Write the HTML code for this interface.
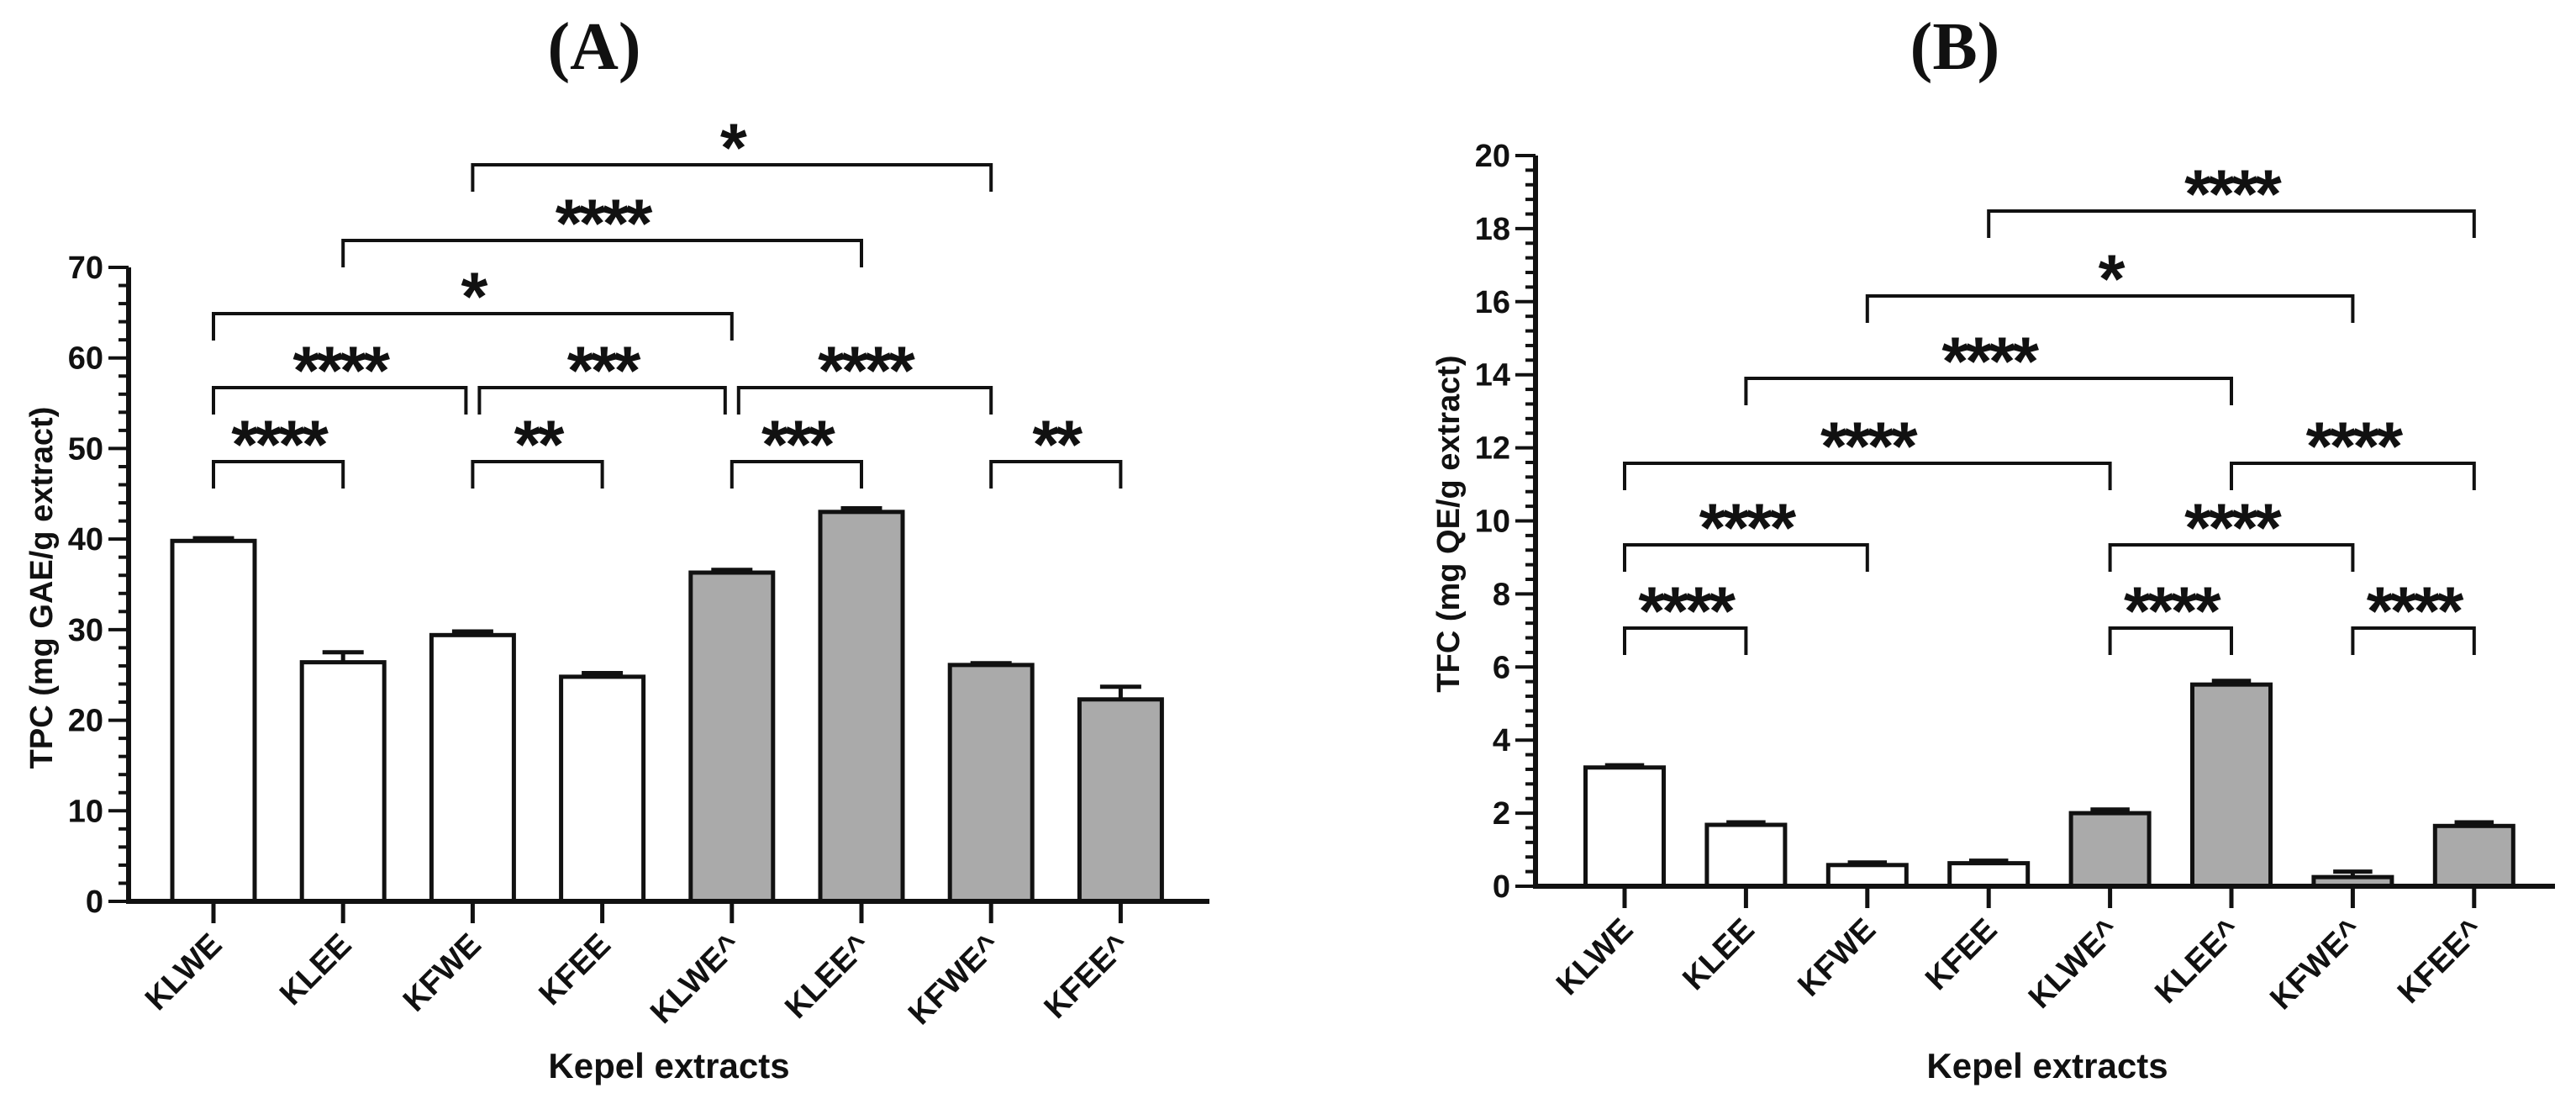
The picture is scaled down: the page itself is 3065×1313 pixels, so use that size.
<!DOCTYPE html>
<html><head><meta charset="utf-8"><style>
html,body{margin:0;padding:0;background:#fff}
svg{display:block}
text{font-family:"Liberation Sans",Arial,sans-serif;font-weight:bold;fill:#111}
</style></head><body>
<svg id="c" width="3065" height="1313" viewBox="0 0 3065 1313" xmlns="http://www.w3.org/2000/svg">
<text x="707" y="82" font-size="80" text-anchor="middle" style="font-family:'Liberation Serif',serif">(A)</text>
<text x="2326" y="82" font-size="80" text-anchor="middle" style="font-family:'Liberation Serif',serif">(B)</text>
</svg>
<script>
const categories = ["KLWE","KLEE","KFWE","KFEE","KLWE^","KLEE^","KFWE^","KFEE^"];
const fills = ["#fff","#fff","#fff","#fff","#aaa","#aaa","#aaa","#aaa"];
const tpcValues = [39.8,26.4,29.4,24.8,36.3,43.0,26.1,22.3];
const tpcErrors = [0.3,1.1,0.4,0.4,0.3,0.4,0.2,1.4];
const tpcTicks = [0,10,20,30,40,50,60,70];
const tpcBrackets = [[2,6,"*",0],[1,5,"****",1],[0,4,"*",2],[0,2,"****",3],[2,4,"***",3],[4,6,"****",3],[0,1,"****",4],[2,3,"**",4],[4,5,"***",4],[6,7,"**",4]];
const tfcValues = [3.25,1.68,0.58,0.63,2.0,5.52,0.25,1.65];
const tfcErrors = [0.06,0.07,0.07,0.07,0.1,0.1,0.15,0.1];
const tfcTicks = [0,2,4,6,8,10,12,14,16,18,20];
const tfcBrackets = [[3,7,"****",0],[2,6,"*",1],[1,5,"****",2],[0,4,"****",3],[5,7,"****",3],[0,2,"****",4],[4,6,"****",4],[0,1,"****",5],[4,5,"****",5],[6,7,"****",5]];

const NS="http://www.w3.org/2000/svg";
const svg=document.getElementById('c');
function mk(tag,attrs,parent){const e=document.createElementNS(NS,tag);for(const k in attrs)e.setAttribute(k,attrs[k]);(parent||svg).appendChild(e);return e;}

function panel(cfg){
  const g=mk('g',{});
  
  
  const y=v=>cfg.y0-(v-cfg.min)/(cfg.max-cfg.min)*(cfg.y0-cfg.yTop);
  const x=i=>cfg.x0+i*cfg.step;
  cfg.values.forEach((v,i)=>{
    const top=y(v+cfg.errors[i]);
    const eb=mk('path',{d:`M${x(i)} ${y(v)} V${top} M${x(i)-cfg.bw*0.25} ${top} H${x(i)+cfg.bw*0.25}`,stroke:'#111','stroke-width':5,fill:'none'},g);
    
    
    const r=mk('rect',{x:x(i)-cfg.bw/2,y:y(v),width:cfg.bw,height:cfg.y0-y(v),fill:fills[i],stroke:'#111','stroke-width':5},g);
    
    
    const t=mk('path',{d:`M${x(i)} ${cfg.y0} V${cfg.y0+26}`,stroke:'#111','stroke-width':5},g);
    
    
    const lx=x(i)+12, ly=cfg.y0+54;
    const lab=mk('text',{x:lx,y:ly,'font-size':38,'text-anchor':'end',transform:`rotate(-45 ${lx} ${ly})`},g);
    lab.textContent=categories[i];
    
    
  });
  const ax=mk('path',{d:`M${cfg.ax} ${y(cfg.max)} V${cfg.y0} H${cfg.axEnd}`,stroke:'#111','stroke-width':6,fill:'none'},g);
  
  
  const mt=(cfg.ticks[1]-cfg.ticks[0])/cfg.minor;
  for(let v=cfg.min;v<=cfg.max+1e-9;v+=mt){
    const isMajor=cfg.ticks.some(t=>Math.abs(t-v)<1e-6);
    const m=mk('path',{d:`M${cfg.ax-(isMajor?24:12)} ${y(v)} H${cfg.ax}`,stroke:'#111','stroke-width':4},g);
    
    
  }
  cfg.ticks.forEach(v=>{
    const t=mk('text',{x:cfg.ax-30,y:y(v)+13,'font-size':38,'text-anchor':'end'},g);
    t.textContent=v;
    
    
  });
  cfg.brackets.forEach(b=>{
    const ly=cfg.bLines[b[3]];
    const shareL=cfg.brackets.some(o=>o!==b&&o[3]===b[3]&&o[1]===b[0]);
    const shareR=cfg.brackets.some(o=>o!==b&&o[3]===b[3]&&o[0]===b[1]);
    const x1=x(b[0])+(shareL?8:0), x2=x(b[1])-(shareR?8:0);
    const p=mk('path',{d:`M${x1} ${ly+32} V${ly} H${x2} V${ly+32}`,stroke:'#111','stroke-width':4,fill:'none'},g);
    
    
    const s=mk('text',{x:(x1+x2)/2,y:ly+8,'font-size':82,'text-anchor':'middle','letter-spacing':'-4'},g);
    s.textContent=b[2];
    
    
  });
  const xt=mk('text',{x:cfg.xtX,y:1282,'font-size':42,'text-anchor':'middle'},g);
  xt.textContent='Kepel extracts';
  
  
  const yt=mk('text',{x:cfg.ytX,y:cfg.ytY,'font-size':38,'text-anchor':'middle',transform:`rotate(-90 ${cfg.ytX} ${cfg.ytY})`},g);
  yt.textContent=cfg.ytitle;
  
  
}
panel({name:'panel-a-tpc-chart',values:tpcValues,errors:tpcErrors,ticks:tpcTicks,brackets:tpcBrackets,min:0,max:70,y0:1072,yTop:318,x0:254,step:154.2,bw:98,ax:153,axEnd:1439,minor:5,bLines:[196,286,373,461,549],xtX:796,ytX:62,ytY:699,ytitle:'TPC (mg GAE/g extract)'});
panel({name:'panel-b-tfc-chart',values:tfcValues,errors:tfcErrors,ticks:tfcTicks,brackets:tfcBrackets,min:0,max:20,y0:1054,yTop:185,x0:1933,step:144.4,bw:93,ax:1827,axEnd:3040,minor:5,bLines:[251,352,450,551,648,747],xtX:2436,ytX:1736,ytY:623,ytitle:'TFC (mg QE/g extract)'});
</script>
</body></html>
